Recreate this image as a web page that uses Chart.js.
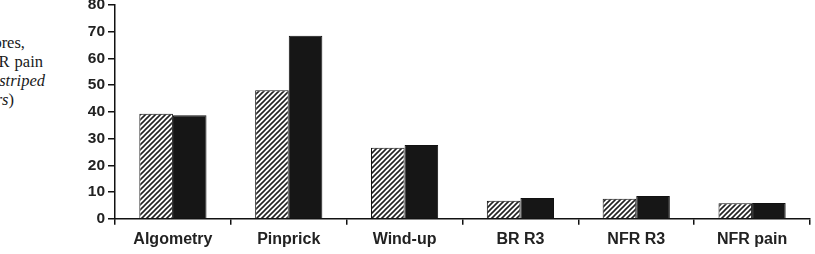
<!DOCTYPE html>
<html>
<head>
<meta charset="utf-8">
<script src="https://cdn.jsdelivr.net/npm/chart.js@4.4.1/dist/chart.umd.min.js"></script>
<style>
  html, body { margin: 0; padding: 0; background: #fff; }
  body { width: 815px; height: 254px; position: relative; overflow: hidden; }
  #wrap { position: absolute; left: 0; top: -20px; width: 815px; height: 274px; }
  .cap { position: absolute; white-space: nowrap; font-family: "Liberation Serif", "Times New Roman", serif;
         font-size: 16.5px; line-height: 19px; color: #1a1a1a; text-align: right; }
</style>
</head>
<body>
<div class="cap" style="right:790px; top:33px;">ores,</div>
<div class="cap" style="right:772px; top:52px; word-spacing:1px;">R pain</div>
<div class="cap" style="right:770px; top:71px;"><i>striped</i></div>
<div class="cap" style="right:801px; top:90px;"><i>rs</i>)</div>
<div id="wrap"><canvas id="c" width="815" height="274"></canvas></div>
<script>
const categories = ["Algometry", "Pinprick", "Wind-up", "BR R3", "NFR R3", "NFR pain"];
const stripedValues = [39.3, 48.1, 26.6, 6.8, 7.5, 5.8];
const blackValues = [38.7, 68.5, 27.6, 7.8, 8.5, 5.9];
const yTickLabels = [0, 10, 20, 30, 40, 50, 60, 70, 80];

function makeHatch() {
  const p = document.createElement('canvas');
  p.width = 5; p.height = 5;
  const g = p.getContext('2d');
  g.fillStyle = '#ffffff';
  g.fillRect(0, 0, 5, 5);
  g.strokeStyle = '#222222';
  g.lineWidth = 1.6;
  g.beginPath();
  g.moveTo(-1, 6); g.lineTo(6, -1);
  g.moveTo(-1, 1); g.lineTo(1, -1);
  g.moveTo(4, 6); g.lineTo(6, 4);
  g.stroke();
  return document.getElementById('c').getContext('2d').createPattern(p, 'repeat');
}

const fontFam = '"Liberation Sans", Arial, Helvetica, sans-serif';

new Chart(document.getElementById('c'), {
  type: 'bar',
  data: {
    labels: categories,
    datasets: [
      { label: 'Striped bars', data: stripedValues, backgroundColor: makeHatch(),
        borderColor: '#111', borderWidth: 1 },
      { label: 'Black bars', data: blackValues, backgroundColor: '#161616',
        borderColor: '#111', borderWidth: 1 }
    ]
  },
  options: {
    responsive: false,
    animation: false,
    devicePixelRatio: 1,
    layout: { padding: { top: 25, right: 5, bottom: 0, left: 0 } },
    plugins: { legend: { display: false }, tooltip: { enabled: false } },
    datasets: { bar: { categoryPercentage: 0.58, barPercentage: 1.0 } },
    scales: {
      x: {
        grid: { display: true, drawOnChartArea: false, offset: true, tickLength: 6, color: '#111', lineWidth: 1.5 },
        border: { display: true, color: '#111', width: 1.5 },
        ticks: { color: '#222', padding: 5, font: { family: fontFam, size: 16, weight: 'bold' } }
      },
      y: {
        min: 0, max: 80,
        afterFit: (s) => { s.width = 115; },
        grid: { display: true, drawOnChartArea: false, tickLength: 7, color: '#111', lineWidth: 1.5 },
        border: { display: true, color: '#111', width: 1.5 },
        afterBuildTicks: (s) => { s.ticks = yTickLabels.map(v => ({ value: v })); },
        ticks: { color: '#222', padding: 3, font: { family: fontFam, size: 15.5, weight: 'bold' } }
      }
    }
  }
});
</script>
</body>
</html>
